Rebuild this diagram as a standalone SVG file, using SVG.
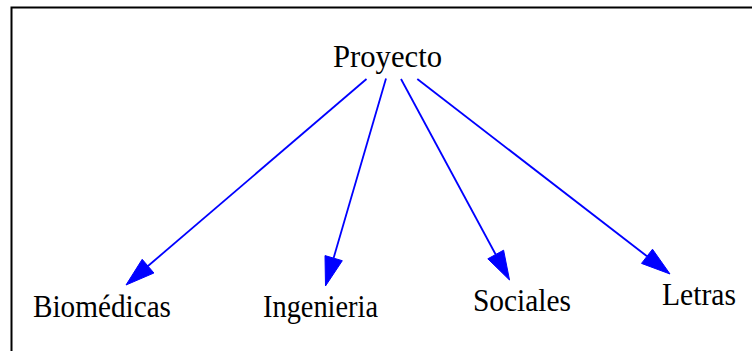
<svg xmlns="http://www.w3.org/2000/svg" width="752" height="351" viewBox="0 0 752 351">
<style>
.lbl{font-family:"Liberation Serif","Times New Roman",serif;font-size:32.5px;fill:#000}
.edge line{stroke:#0000ff;stroke-width:1.8;fill:none}
.edge polygon{fill:#0000ff;stroke:#0000ff;stroke-width:1}
</style>
<rect width="752" height="351" fill="#fff"/>
<path d="M11.5,352 V7.5 H753" fill="none" stroke="#000" stroke-width="2"/>
<g id="connectors" class="edge">
<line x1="366.5" y1="79" x2="148" y2="266"/>
<polygon points="126,285 153.9,273 142.2,259.3"/>
<line x1="386" y1="78.5" x2="333.6" y2="258"/>
<polygon points="325.5,286 342.3,260.7 325,255.6"/>
<line x1="401" y1="79" x2="495.7" y2="254.5"/>
<polygon points="509.5,280 503.6,250.2 487.8,258.8"/>
<line x1="417.3" y1="79" x2="647" y2="256.3"/>
<polygon points="670,274 652.5,249.2 641.5,263.4"/>
</g>
<g id="proyecto"><text class="lbl" x="333" y="67" textLength="109" lengthAdjust="spacingAndGlyphs">Proyecto</text></g>
<g id="biomedicas"><text class="lbl" x="33" y="317" textLength="138" lengthAdjust="spacingAndGlyphs">Biomédicas</text></g>
<g id="ingenieria"><text class="lbl" x="263" y="317" textLength="115" lengthAdjust="spacingAndGlyphs">Ingenieria</text></g>
<g id="sociales"><text class="lbl" x="473" y="311" textLength="98" lengthAdjust="spacingAndGlyphs">Sociales</text></g>
<g id="letras"><text class="lbl" x="662" y="305" textLength="74" lengthAdjust="spacingAndGlyphs">Letras</text></g>
</svg>
